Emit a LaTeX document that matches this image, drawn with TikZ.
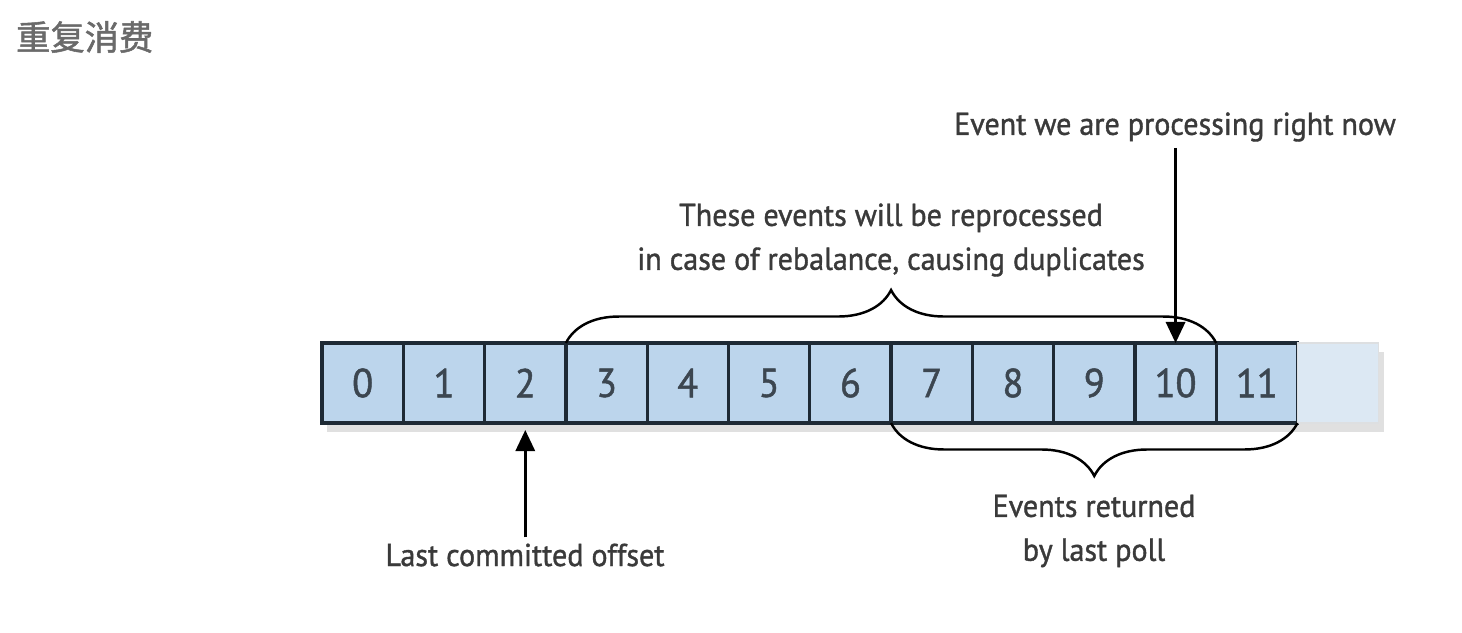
\documentclass[tikz,border=0pt]{standalone}
\usepackage{fontspec}
\setmainfont{PT Sans}[FakeStretch=0.95, FakeBold=1.2]
\newfontfamily\cjk{Noto Sans CJK SC}[FakeBold=1.5]
\usetikzlibrary{positioning,arrows.meta,decorations.pathreplacing,backgrounds}

\definecolor{cellblue}{HTML}{BCD5EC}
\definecolor{cellfade}{HTML}{DCE8F3}
\definecolor{celledge}{HTML}{1E2A35}
\definecolor{digitgray}{HTML}{3C4650}
\definecolor{labelgray}{HTML}{3A3A3A}
\definecolor{titlegray}{HTML}{6A6A6A}

\tikzset{
  cell/.style={draw=celledge, line width=1.9pt, fill=cellblue, outer sep=0pt,
    minimum width=1.626cm, minimum height=1.6cm, inner sep=0pt,
    font=\fontsize{23}{28}\selectfont, text=digitgray},
  fadecell/.style={cell, draw=celledge!15, line width=0.8pt, fill=cellfade},
  label/.style={align=center, text=labelgray, font=\fontsize{18}{25}\selectfont},
  brace/.style={decorate, line width=1.4pt,
    decoration={brace, amplitude=1.06cm, aspect=0.5}},
  ptr/.style={line width=1.4pt, -{Triangle[length=12pt,width=11pt]}}
}

\begin{document}
\begin{tikzpicture}[x=0.02cm,y=-0.02cm]
    \useasboundingbox (0,0) rectangle (1462,632);
    \node[anchor=west, text=titlegray, font=\cjk\fontsize{19.5}{22}\selectfont] (title) at (10,37) {重复消费};

    % the offsets of the partition
    \node[cell] (c0) at (362.7,383) {0};
    \foreach \i [count=\j from 0] in {1,...,11}
        \node[cell, right=0pt of c\j] (c\i) {\i};
    \node[fadecell, right=0pt of c11] (c12) {};
    \begin{scope}[on background layer]
        \fill[black, opacity=0.12] ([xshift=3pt,yshift=-5pt]c0.north west) rectangle ([xshift=3pt,yshift=-5pt]c12.south east);
    \end{scope}

    % braces
    \draw[brace] (c3.north west) -- (c10.north east);
    \draw[brace] (c11.south east) -- (c7.south west);
    \node[label] (reproc) at (891,240) {These events will be reprocessed\\in case of rebalance, causing duplicates};
    \node[label] (polled) at (1094,531) {Events returned\\by last poll};

    % pointers
    \node[label] (now) at (1175,127) {Event we are processing right now};
    \draw[ptr] (c10.north |- now.south) -- (c10.north);
    \node[label] (last) at (525,555) {Last committed offset};
    \draw[ptr] (c2.south |- last.north) -- ([yshift=-4pt]c2.south);
\end{tikzpicture}
\end{document}
